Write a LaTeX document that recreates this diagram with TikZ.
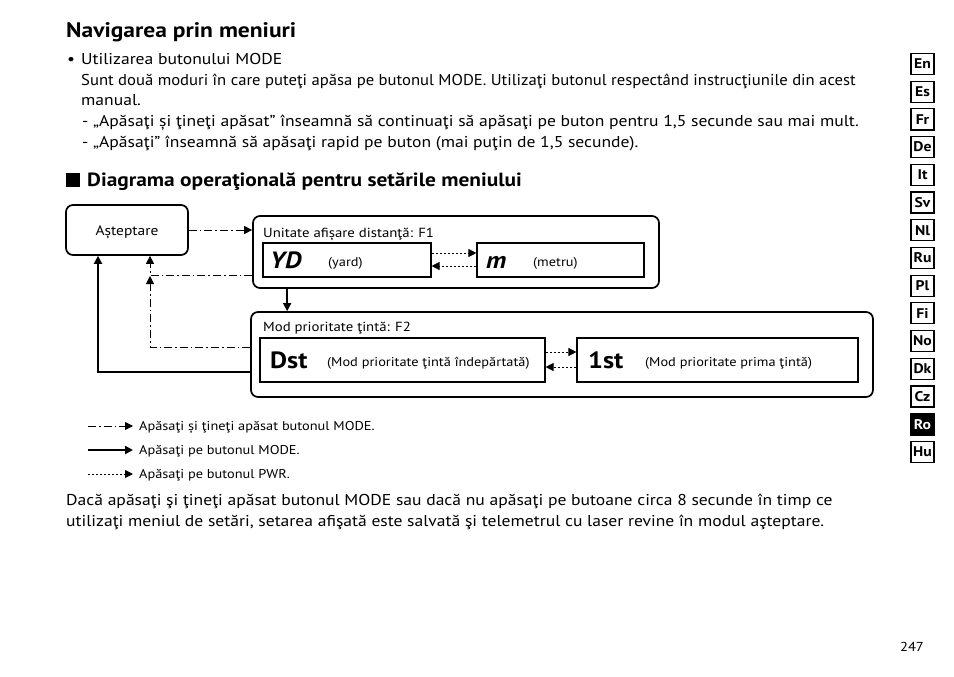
\documentclass[tikz,border=0pt]{standalone}
\usepackage{fontspec}
\setmainfont[FakeStretch=1.12]{PT Sans}
\usetikzlibrary{arrows.meta,calc}
\tikzset{
  body/.style={anchor=base west, inner sep=0pt, font=\fontsize{15.7}{18}\selectfont},
  lab/.style={anchor=base west, inner sep=0pt, font=\fontsize{12.8}{15}\selectfont},
  dlab/.style={anchor=base west, inner sep=0pt, font=\fontsize{13.2}{15}\selectfont},
  big/.style={anchor=base west, inner sep=0pt, font=\fontsize{23.5}{26}\bfseries},
  outerbox/.style={draw, line width=1.7pt, rounded corners=7pt},
  innerbox/.style={draw, line width=1.1pt},
  tri/.style={-{Triangle[length=8pt,width=8pt]}},
  dashdot/.style={line width=0.9pt, dash pattern=on 8pt off 3pt on 1.6pt off 3pt, tri},
  dotline/.style={line width=1pt, dash pattern=on 2pt off 2pt, tri},
  solidline/.style={line width=2pt, tri},
  tab/.style={draw, line width=1.2pt, minimum width=23pt, minimum height=21pt, inner sep=0pt, font=\fontsize{14}{15}\bfseries},
}
\begin{document}
\begin{tikzpicture}[x=1pt,y=-1pt]
\useasboundingbox (0,0) rectangle (954,677);
\fill[white] (0,0) rectangle (954,677);

% heading and text
\node[body, font=\fontsize{21}{24}\bfseries] (title) at (66,38) {Navigarea prin meniuri};
\node[body, anchor=base] (bul) at (71,65) {\textbullet};
\node[body] (l1) at (81,65) {Utilizarea butonului MODE};
\node[body] (l2) at (81,86) {\scalebox{0.947}[1]{Sunt două moduri în care puteţi apăsa pe butonul MODE. Utilizaţi butonul respectând instrucţiunile din acest}};
\node[body] (l3) at (81,106) {manual.};
\node[body] (d1) at (82,127) {-};
\node[body] (l4) at (93,127) {„Apăsaţi și ţineţi apăsat” înseamnă să continuaţi să apăsaţi pe buton pentru 1,5 secunde sau mai mult.};
\node[body] (d2) at (82,147) {-};
\node[body] (l5) at (93,147) {„Apăsaţi” înseamnă să apăsaţi rapid pe buton (mai puţin de 1,5 secunde).};
\node[fill=black, minimum width=14pt, minimum height=14pt, inner sep=0pt] (sq) at (73,180) {};
\node[body, font=\fontsize{19.1}{21}\bfseries] (h2) at (87,186) {Diagrama operaţională pentru setările meniului};

% diagram boxes
\node[outerbox, minimum width=122pt, minimum height=50pt] (wait) at (127,230) {};
\node[anchor=center, font=\fontsize{13.8}{15}\selectfont] (waitt) at (127,232) {Așteptare};

\node[outerbox, minimum width=406pt, minimum height=72pt] (f1) at (456,252) {};
\node[dlab] (f1t) at (263,237) {Unitate afișare distanţă: F1};
\node[innerbox, minimum width=168pt, minimum height=34pt] (yd) at (347,260) {};
\node[big, font=\fontsize{23.5}{26}\bfseries\itshape] (ydt) at (270,268) {YD};
\node[dlab, font=\fontsize{12.8}{14}\selectfont] (ydl) at (328,266) {(yard)};
\node[innerbox, minimum width=167pt, minimum height=34pt] (m) at (560.5,260) {};
\node[big, font=\fontsize{23.5}{26}\bfseries\itshape] (mt) at (486,268) {m};
\node[dlab, font=\fontsize{12.8}{14}\selectfont] (ml) at (533,266) {(metru)};

\node[outerbox, minimum width=622pt, minimum height=85pt] (f2) at (562,354.5) {};
\node[dlab] (f2t) at (263,331) {Mod prioritate ţintă: F2};
\node[innerbox, minimum width=285pt, minimum height=44pt] (dst) at (402.5,360) {};
\node[big] (dstt) at (270,368) {Dst};
\node[dlab, font=\fontsize{12.8}{14}\selectfont] (dstl) at (327,366) {(Mod prioritate ţintă îndepărtată)};
\node[innerbox, minimum width=281pt, minimum height=44pt] (fst) at (717.5,360) {};
\node[big] (fstt) at (588,368) {1st};
\node[dlab, font=\fontsize{12.8}{14}\selectfont] (fstl) at (645,366) {(Mod prioritate prima ţintă)};

% connectors
\draw[dashdot] (wait.east) -- (wait.east -| f1.west);
\draw[dotline] ([yshift=7pt]yd.east) -- ([yshift=7pt]m.west);
\draw[dotline] ([yshift=-6pt]m.west) -- ([yshift=-6pt]yd.east);
\draw[dotline] ([yshift=8pt]dst.east) -- ([yshift=8pt]fst.west);
\draw[dotline] ([yshift=-7pt]fst.west) -- ([yshift=-7pt]dst.east);
\draw[solidline, line width=1.6pt] ([xshift=35pt]f1.south west) -- ([xshift=35pt]f1.south west |- f2.north);
\draw[dashdot] ([yshift=-23pt]f1.west) -| ([xshift=23pt]wait.south);
\coordinate (join) at (150,276);
\draw[dashdot] ([yshift=7.5pt]f2.west) -| (join);
\draw[solidline] ([yshift=-17.5pt]f2.west) -| ([xshift=-29pt]wait.south);

% legend
\coordinate (a1) at (88,426); \coordinate (b1) at (133,426);
\coordinate (a2) at (88,450); \coordinate (b2) at (133,450);
\coordinate (a3) at (88,474); \coordinate (b3) at (133,474);
\draw[dashdot] (a1) -- (b1);
\draw[solidline] (a2) -- (b2);
\draw[dotline] (a3) -- (b3);
\node[lab] (lg1) at (139,430.5) {Apăsaţi și ţineţi apăsat butonul MODE.};
\node[lab] (lg2) at (139,454.5) {Apăsaţi pe butonul MODE.};
\node[lab] (lg3) at (139,478.5) {Apăsaţi pe butonul PWR.};

% closing paragraph
\node[body] (p1) at (66,505) {Dacă apăsaţi şi ţineţi apăsat butonul MODE sau dacă nu apăsaţi pe butoane circa 8 secunde în timp ce};
\node[body] (p2) at (66,526) {utilizaţi meniul de setări, setarea afişată este salvată şi telemetrul cu laser revine în modul aşteptare.};

% language tabs
\foreach \t [count=\i from 0] in {En,Es,Fr,De,It,Sv,Nl,Ru,Pl,Fi,No,Dk,Cz}{
  \node[tab] (tab\i) at (922.5,{64+27.7*\i}) {\t};
}
\node[tab, fill=black, text=white] (tabRo) at (922.5,424.5) {Ro};
\node[tab] (tabHu) at (922.5,452) {Hu};

\node[lab, anchor=center, font=\fontsize{13}{15}\selectfont] (pg) at (912,647) {247};
\end{tikzpicture}
\end{document}
